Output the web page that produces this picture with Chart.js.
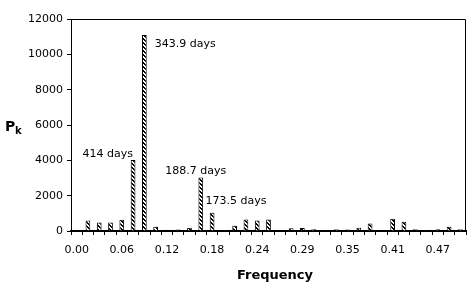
<!DOCTYPE html>
<html>
<head>
<meta charset="utf-8">
<script src="https://cdn.jsdelivr.net/npm/chart.js@4"></script>
<style>
  html, body { margin: 0; padding: 0; background: #fff; }
  #wrap { width: 473px; height: 283px; }
</style>
</head>
<body>
<div id="wrap"><canvas id="periodChart"></canvas></div>
<script>
// frequency bins (k / 68), labelled every 4th bin on the axis
var freqLabels = ['0.00', '0.01', '0.03', '0.04', '0.06', '0.07', '0.09', '0.10', '0.12', '0.13',
    '0.15', '0.16', '0.18', '0.19', '0.21', '0.22', '0.24', '0.25', '0.26', '0.28',
    '0.29', '0.31', '0.32', '0.34', '0.35', '0.37', '0.38', '0.40', '0.41', '0.43',
    '0.44', '0.46', '0.47', '0.49', '0.50'];

var power = [0, 600, 480, 480, 640, 4020, 11100, 240, 70, 90,
    190, 3030, 1030, 60, 300, 650, 600, 650, 0, 150,
    170, 100, 0, 100, 90, 180, 430, 0, 690, 520,
    100, 50, 100, 240, 100];

var peakNames = ['414 days', '343.9 days', '188.7 days', '173.5 days'];
var peakBins = [5, 6, 11, 12];

var fontFamily = '"DejaVu Sans", Arial, sans-serif';

// hatch fill like the old excel bars
function makeHatch() {
    var c = document.createElement('canvas');
    c.width = 4;
    c.height = 4;
    var g = c.getContext('2d');
    g.fillStyle = '#fff';
    g.fillRect(0, 0, 4, 4);
    g.fillStyle = '#000';
    for (var i = 0; i < 4; i++) {
        g.fillRect(i, i, 1, 1);
        g.fillRect((i + 1) % 4, i, 1, 1);
    }
    return g.createPattern(c, 'repeat');
}

// label placement relative to each peak bar (dx, dy from bar top centre)
var noteStyle = [
    { dx: 0, dy: -6, align: 'right' },
    { dx: 10.5, dy: 9, align: 'left' },
    { dx: -5, dy: -6, align: 'center' },
    { dx: -6.5, dy: -12, align: 'left' }
];

var extras = {
    id: 'extras',
    afterDraw: function (chart) {
        var ctx = chart.ctx;
        var area = chart.chartArea;
        ctx.save();

        // frame on top and right
        ctx.strokeStyle = '#000';
        ctx.lineWidth = 1;
        ctx.beginPath();
        ctx.moveTo(area.left, area.top + 0.5);
        ctx.lineTo(area.right - 0.5, area.top + 0.5);
        ctx.lineTo(area.right - 0.5, area.bottom);
        ctx.stroke();

        // peak labels
        var meta = chart.getDatasetMeta(0);
        ctx.fillStyle = '#000';
        ctx.font = '11px ' + fontFamily;
        ctx.textBaseline = 'middle';
        peakBins.forEach(function (bin, i) {
            var bar = meta.data[bin];
            var s = noteStyle[i];
            ctx.textAlign = s.align;
            ctx.fillText(peakNames[i], bar.x + s.dx, bar.y + s.dy);
        });

        // y title: P with subscript k
        ctx.textAlign = 'left';
        ctx.textBaseline = 'alphabetic';
        ctx.font = 'bold 14px ' + fontFamily;
        ctx.fillText('P', 5, 131);
        ctx.font = 'bold 10px ' + fontFamily;
        ctx.fillText('k', 15, 134);

        // x title
        ctx.textAlign = 'center';
        ctx.textBaseline = 'middle';
        ctx.font = 'bold 13px ' + fontFamily;
        ctx.fillText('Frequency', 275, 276);

        ctx.restore();
    }
};

var ctx = document.getElementById('periodChart').getContext('2d');

var myChart = new Chart(ctx, {
    type: 'bar',
    data: {
        labels: freqLabels,
        datasets: [{
            data: power,
            backgroundColor: makeHatch(),
            borderColor: '#000',
            borderWidth: 1,
            borderSkipped: 'start',
            categoryPercentage: 1.0,
            barPercentage: 0.42
        }]
    },
    options: {
        responsive: true,
        maintainAspectRatio: false,
        animation: false,
        layout: {
            padding: { left: 0, right: 7, top: 19, bottom: 0 }
        },
        scales: {
            x: {
                offset: true,
                afterFit: function (scale) { scale.height = 52; },
                border: { display: true, color: '#000', width: 2 },
                grid: {
                    display: true,
                    offset: true,
                    drawOnChartArea: false,
                    drawTicks: true,
                    tickLength: 4,
                    tickColor: '#000'
                },
                ticks: {
                    autoSkip: false,
                    maxRotation: 0,
                    padding: 9,
                    color: '#000',
                    font: { family: fontFamily, size: 11 },
                    callback: function (value, index) {
                        return index % 4 === 0 ? this.getLabelForValue(value) : '';
                    }
                }
            },
            y: {
                min: 0,
                max: 12000,
                afterFit: function (scale) { scale.width = 71; },
                border: { display: true, color: '#000', width: 1 },
                grid: {
                    display: true,
                    drawOnChartArea: false,
                    drawTicks: true,
                    tickLength: 4,
                    tickColor: '#000'
                },
                ticks: {
                    stepSize: 2000,
                    padding: 4,
                    color: '#000',
                    font: { family: fontFamily, size: 11 },
                    callback: function (value) { return String(value); }
                }
            }
        },
        plugins: {
            legend: { display: false },
            tooltip: { enabled: false },
            title: { display: false }
        }
    },
    plugins: [extras]
});
</script>
</body>
</html>
